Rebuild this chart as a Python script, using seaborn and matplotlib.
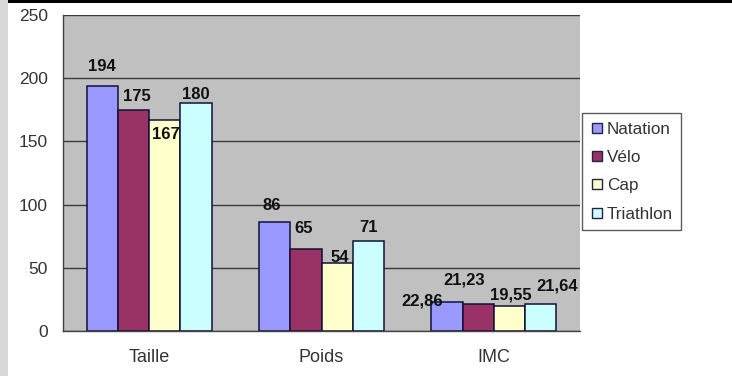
import matplotlib
matplotlib.use("Agg")
import matplotlib.pyplot as plt
import seaborn as sns
import pandas as pd
from matplotlib.patches import Rectangle
from matplotlib.lines import Line2D

categories = ["Taille", "Poids", "IMC"]
series = ["Natation", "Vélo", "Cap", "Triathlon"]
natation = [194, 86, 22.86]
velo = [175, 65, 21.23]
cap = [167, 54, 19.55]
triathlon = [180, 71, 21.64]
y_ticks = [0, 50, 100, 150, 200, 250]

colors = ["#9999FF", "#993366", "#FFFFCC", "#CCFFFF"]
# label offsets (pixels) from bar-top centre, per series then category
label_off = {
    "Natation": [(0, 19), (-3, 17), (-25, 1)],
    "Vélo": [(3, 13), (-2, 20), (-14, 24)],
    "Cap": [(1, -15), (3, 5), (1, 11)],
    "Triathlon": [(0, 9), (0, 14), (16, 18)],
}

rows = []
for s, vals in zip(series, [natation, velo, cap, triathlon]):
    for c, v in zip(categories, vals):
        rows.append({"cat": c, "serie": s, "val": v})
df = pd.DataFrame(rows)

sns.set_style("white")
plt.rcParams["font.family"] = ["Liberation Sans", "DejaVu Sans"]

fig = plt.figure(figsize=(7.32, 3.76), dpi=100)
fig.patch.set_facecolor("white")
ax = fig.add_axes([63/732, 1-331/376, (580-63)/732, (331-15)/376])
ax.set_facecolor("#C0C0C0")

sns.barplot(data=df, x="cat", y="val", hue="serie", order=categories,
            hue_order=series, palette=colors, width=0.727, gap=0,
            edgecolor="#10103a", linewidth=1.1, saturation=1, ax=ax,
            legend=False, errorbar=None)

ax.set_ylim(0, 250)
ax.set_xlim(-0.5, 2.5)
ax.set_yticks(y_ticks)
ax.set_yticklabels([str(t) for t in y_ticks], fontsize=12.5, color="#333333")
ax.yaxis.grid(True, color="#3a3a3a", linewidth=1.0)
ax.set_axisbelow(True)
ax.set_xlabel("")
ax.set_ylabel("")
ax.tick_params(axis="x", length=0, pad=13, labelsize=13, labelcolor="#333333")
ax.tick_params(axis="y", length=5, width=1, color="#444444", direction="out", pad=6)
for sp in ["top", "right"]:
    ax.spines[sp].set_visible(False)
for sp in ["left", "bottom"]:
    ax.spines[sp].set_color("#444444")
    ax.spines[sp].set_linewidth(1.0)
# category separator ticks
ax.set_xticks([0, 1, 2], minor=False)
ax.set_xticks([0.5, 1.5, 2.5], minor=True)
ax.tick_params(axis="x", which="minor", length=5, color="#444444", direction="out")

# data labels
for i, s in enumerate(series):
    cont = ax.containers[i]
    for j, bar in enumerate(cont.patches):
        v = bar.get_height()
        if abs(v - round(v)) < 1e-9:
            txt = str(int(round(v)))
        else:
            txt = f"{v:.2f}".replace(".", ",")
        dx, dy = label_off[s][j]
        ax.annotate(txt, (bar.get_x() + bar.get_width()/2, v),
                    xytext=(dx, dy), textcoords="offset pixels",
                    ha="center", va="center", fontsize=12,
                    fontweight="bold", color="#111111", annotation_clip=False)

# legend
handles = [Line2D([0], [0], marker="s", linestyle="", markersize=7.5,
                  markerfacecolor=c, markeredgecolor="#222244", markeredgewidth=1)
           for c in colors]
leg = fig.legend(handles, series, loc="upper left",
                 bbox_to_anchor=(582/732, 1-113/376), fontsize=12.3,
                 frameon=True, fancybox=False, handlelength=0.7,
                 handletextpad=0.25, labelspacing=0.78, borderpad=0.5,
                 borderaxespad=0)
leg.get_frame().set_edgecolor("#333333")
leg.get_frame().set_linewidth(1.0)
for t in leg.get_texts():
    t.set_color("#333333")

# top black border and left grey strip
fig.add_artist(Rectangle((0, 1-3/376), 1, 3/376, transform=fig.transFigure,
                         facecolor="black", edgecolor="none"))
fig.add_artist(Rectangle((0, 0), 8/732, 1, transform=fig.transFigure,
                         facecolor="#d8d8d8", edgecolor="none"))

fig.savefig("out.png", dpi=100)
